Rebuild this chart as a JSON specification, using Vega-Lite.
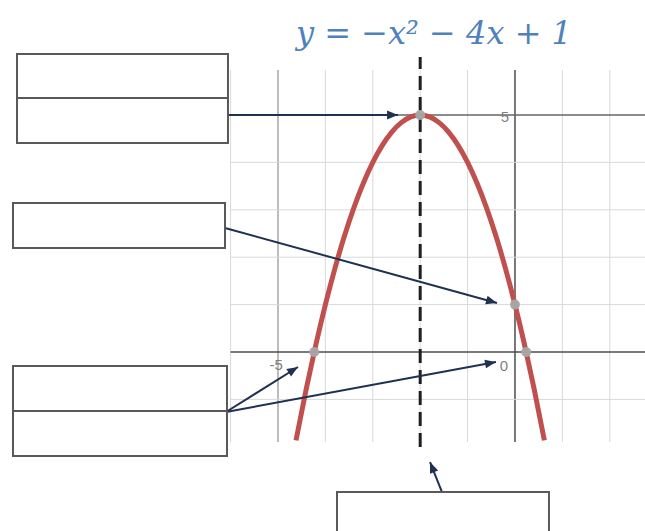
{
  "$schema": "https://vega.github.io/schema/vega-lite/v6.json",
  "width": 645,
  "height": 531,
  "padding": 0,
  "autosize": {"type": "none"},
  "background": "white",
  "config": {"view": {"stroke": null}},
  "datasets": {
    "vgrid": [
      {"x": -6, "kind": "minor"}, {"x": -5, "kind": "mid"}, {"x": -4, "kind": "minor"}, {"x": -3, "kind": "minor"},
      {"x": -2, "kind": "minor"}, {"x": -1, "kind": "minor"}, {"x": 0, "kind": "axis"}, {"x": 1, "kind": "minor"}, {"x": 2, "kind": "minor"}
    ],
    "hgrid": [
      {"y": -1, "kind": "minor"}, {"y": 0, "kind": "axis"}, {"y": 1, "kind": "minor"}, {"y": 2, "kind": "minor"},
      {"y": 3, "kind": "minor"}, {"y": 4, "kind": "minor"}, {"y": 5, "kind": "mid5"}
    ],
    "curve": [
      {"x": -4.62, "y": -1.864}, {"x": -4.4, "y": -0.76}, {"x": -4.2, "y": 0.16}, {"x": -4.0, "y": 1.0},
      {"x": -3.8, "y": 1.76}, {"x": -3.6, "y": 2.44}, {"x": -3.4, "y": 3.04}, {"x": -3.2, "y": 3.56},
      {"x": -3.0, "y": 4.0}, {"x": -2.8, "y": 4.36}, {"x": -2.6, "y": 4.64}, {"x": -2.4, "y": 4.84},
      {"x": -2.2, "y": 4.96}, {"x": -2.0, "y": 5.0}, {"x": -1.8, "y": 4.96}, {"x": -1.6, "y": 4.84},
      {"x": -1.4, "y": 4.64}, {"x": -1.2, "y": 4.36}, {"x": -1.0, "y": 4.0}, {"x": -0.8, "y": 3.56},
      {"x": -0.6, "y": 3.04}, {"x": -0.4, "y": 2.44}, {"x": -0.2, "y": 1.76}, {"x": 0.0, "y": 1.0},
      {"x": 0.2, "y": 0.16}, {"x": 0.4, "y": -0.76}, {"x": 0.62, "y": -1.864}
    ],
    "keypts": [
      {"x": -2, "y": 5}, {"x": 0, "y": 1}, {"x": -4.236, "y": 0}, {"x": 0.236, "y": 0}
    ],
    "labels": [
      {"x": -0.211, "y": 4.96, "t": "5"},
      {"x": -5.04, "y": -0.274, "t": "-5"},
      {"x": -0.232, "y": -0.295, "t": "0"}
    ],
    "arrows": [
      {"x": -6.055, "y": 5.0, "x2": -2.468, "y2": 5.0},
      {"x": -6.118, "y": 2.616, "x2": -0.38, "y2": 1.034},
      {"x": -6.097, "y": -1.266, "x2": -4.578, "y2": -0.316},
      {"x": -6.097, "y": -1.266, "x2": -0.401, "y2": -0.211},
      {"x": -1.54, "y": -2.954, "x2": -1.793, "y2": -2.321}
    ],
    "boxes": [
      {"x": -10.506, "x2": -6.055, "y": 6.287, "y2": 5.359},
      {"x": -10.506, "x2": -6.055, "y": 5.359, "y2": 4.409},
      {"x": -10.591, "x2": -6.118, "y": 3.143, "y2": 2.194},
      {"x": -10.591, "x2": -6.076, "y": -0.295, "y2": -1.245},
      {"x": -10.591, "x2": -6.076, "y": -1.245, "y2": -2.194},
      {"x": -3.755, "x2": 0.717, "y": -2.954, "y2": -4.0}
    ]
  },
  "layer": [
    {
      "data": {"name": "vgrid"},
      "transform": [{"calculate": "-1.9", "as": "ylo"}, {"calculate": "5.95", "as": "yhi"}],
      "mark": {"type": "rule", "clip": true},
      "encoding": {
        "x": {"field": "x", "type": "quantitative", "scale": {"domain": [-10.865, 2.743], "nice": false, "zero": false}, "axis": null},
        "y": {"field": "ylo", "type": "quantitative", "scale": {"domain": [-3.776, 7.426], "nice": false, "zero": false}, "axis": null},
        "y2": {"field": "yhi"},
        "color": {"field": "kind", "type": "nominal", "scale": {"domain": ["minor", "mid", "mid5", "axis"], "range": ["#d9d9d9", "#8c8c8c", "#666666", "#4d4d4d"]}, "legend": null},
        "strokeWidth": {"field": "kind", "type": "nominal", "scale": {"domain": ["minor", "mid", "mid5", "axis"], "range": [1, 1.5, 1.5, 2]}, "legend": null}
      }
    },
    {
      "data": {"name": "hgrid"},
      "transform": [{"calculate": "-6", "as": "xlo"}, {"calculate": "3", "as": "xhi"}],
      "mark": {"type": "rule", "clip": true},
      "encoding": {
        "y": {"field": "y", "type": "quantitative", "scale": {"domain": [-3.776, 7.426], "nice": false, "zero": false}, "axis": null},
        "x": {"field": "xlo", "type": "quantitative", "scale": {"domain": [-10.865, 2.743], "nice": false, "zero": false}, "axis": null},
        "x2": {"field": "xhi"},
        "color": {"field": "kind", "type": "nominal", "scale": {"domain": ["minor", "mid", "mid5", "axis"], "range": ["#d9d9d9", "#8c8c8c", "#666666", "#4d4d4d"]}, "legend": null},
        "strokeWidth": {"field": "kind", "type": "nominal", "scale": {"domain": ["minor", "mid", "mid5", "axis"], "range": [1, 1.5, 1.5, 2]}, "legend": null}
      }
    },
    {
      "data": {"name": "curve"},
      "mark": {"type": "line", "color": "#c0504d", "strokeWidth": 5, "interpolate": "monotone", "strokeCap": "butt", "clip": true},
      "encoding": {
        "x": {"field": "x", "type": "quantitative", "scale": {"domain": [-10.865, 2.743], "nice": false, "zero": false}, "axis": null},
        "y": {"field": "y", "type": "quantitative", "scale": {"domain": [-3.776, 7.426], "nice": false, "zero": false}, "axis": null}
      }
    },
    {
      "data": {"values": [{"x": -2, "ylo": -2.004, "yhi": 6.224}]},
      "mark": {"type": "rule", "color": "#1f1f1f", "strokeWidth": 3, "strokeDash": [14, 7]},
      "encoding": {
        "x": {"field": "x", "type": "quantitative", "scale": {"domain": [-10.865, 2.743], "nice": false, "zero": false}, "axis": null},
        "y": {"field": "ylo", "type": "quantitative", "scale": {"domain": [-3.776, 7.426], "nice": false, "zero": false}, "axis": null},
        "y2": {"field": "yhi"}
      }
    },
    {
      "data": {"name": "keypts"},
      "mark": {"type": "point", "shape": "circle", "filled": true, "color": "#a6a6a6", "size": 100, "opacity": 0.95},
      "encoding": {
        "x": {"field": "x", "type": "quantitative", "scale": {"domain": [-10.865, 2.743], "nice": false, "zero": false}, "axis": null},
        "y": {"field": "y", "type": "quantitative", "scale": {"domain": [-3.776, 7.426], "nice": false, "zero": false}, "axis": null}
      }
    },
    {
      "data": {"name": "labels"},
      "mark": {"type": "text", "font": "Liberation Sans", "fontSize": 15, "color": "#7f7f7f", "align": "center", "baseline": "middle"},
      "encoding": {
        "x": {"field": "x", "type": "quantitative", "scale": {"domain": [-10.865, 2.743], "nice": false, "zero": false}, "axis": null},
        "y": {"field": "y", "type": "quantitative", "scale": {"domain": [-3.776, 7.426], "nice": false, "zero": false}, "axis": null},
        "text": {"field": "t"}
      }
    },
    {
      "data": {"name": "arrows"},
      "mark": {"type": "rule", "color": "#1f3050", "strokeWidth": 2},
      "encoding": {
        "x": {"field": "x", "type": "quantitative", "scale": {"domain": [-10.865, 2.743], "nice": false, "zero": false}, "axis": null},
        "y": {"field": "y", "type": "quantitative", "scale": {"domain": [-3.776, 7.426], "nice": false, "zero": false}, "axis": null},
        "x2": {"field": "x2"},
        "y2": {"field": "y2"}
      }
    },
    {
      "data": {"name": "arrows"},
      "transform": [{"calculate": "atan2(datum.y - datum.y2, datum.x2 - datum.x) * 180 / PI", "as": "ang"}],
      "mark": {"type": "point", "shape": "M0,0L-1,-0.4L-1,0.4Z", "filled": true, "color": "#1f3050", "size": 480, "opacity": 1},
      "encoding": {
        "x": {"field": "x2", "type": "quantitative", "scale": {"domain": [-10.865, 2.743], "nice": false, "zero": false}, "axis": null},
        "y": {"field": "y2", "type": "quantitative", "scale": {"domain": [-3.776, 7.426], "nice": false, "zero": false}, "axis": null},
        "angle": {"field": "ang", "type": "quantitative", "scale": null}
      }
    },
    {
      "data": {"name": "boxes"},
      "mark": {"type": "rect", "fill": "white", "stroke": "#595959", "strokeWidth": 2, "clip": true},
      "encoding": {
        "x": {"field": "x", "type": "quantitative", "scale": {"domain": [-10.865, 2.743], "nice": false, "zero": false}, "axis": null},
        "x2": {"field": "x2"},
        "y": {"field": "y", "type": "quantitative", "scale": {"domain": [-3.776, 7.426], "nice": false, "zero": false}, "axis": null},
        "y2": {"field": "y2"}
      }
    },
    {
      "data": {"values": [{"x": -1.709, "y": 6.498, "t": "y = −x² − 4x + 1"}]},
      "mark": {"type": "text", "font": "DejaVu Serif", "fontStyle": "italic", "fontSize": 32, "color": "#4f81bd", "align": "center", "baseline": "alphabetic"},
      "encoding": {
        "x": {"field": "x", "type": "quantitative", "scale": {"domain": [-10.865, 2.743], "nice": false, "zero": false}, "axis": null},
        "y": {"field": "y", "type": "quantitative", "scale": {"domain": [-3.776, 7.426], "nice": false, "zero": false}, "axis": null},
        "text": {"field": "t"}
      }
    }
  ]
}
